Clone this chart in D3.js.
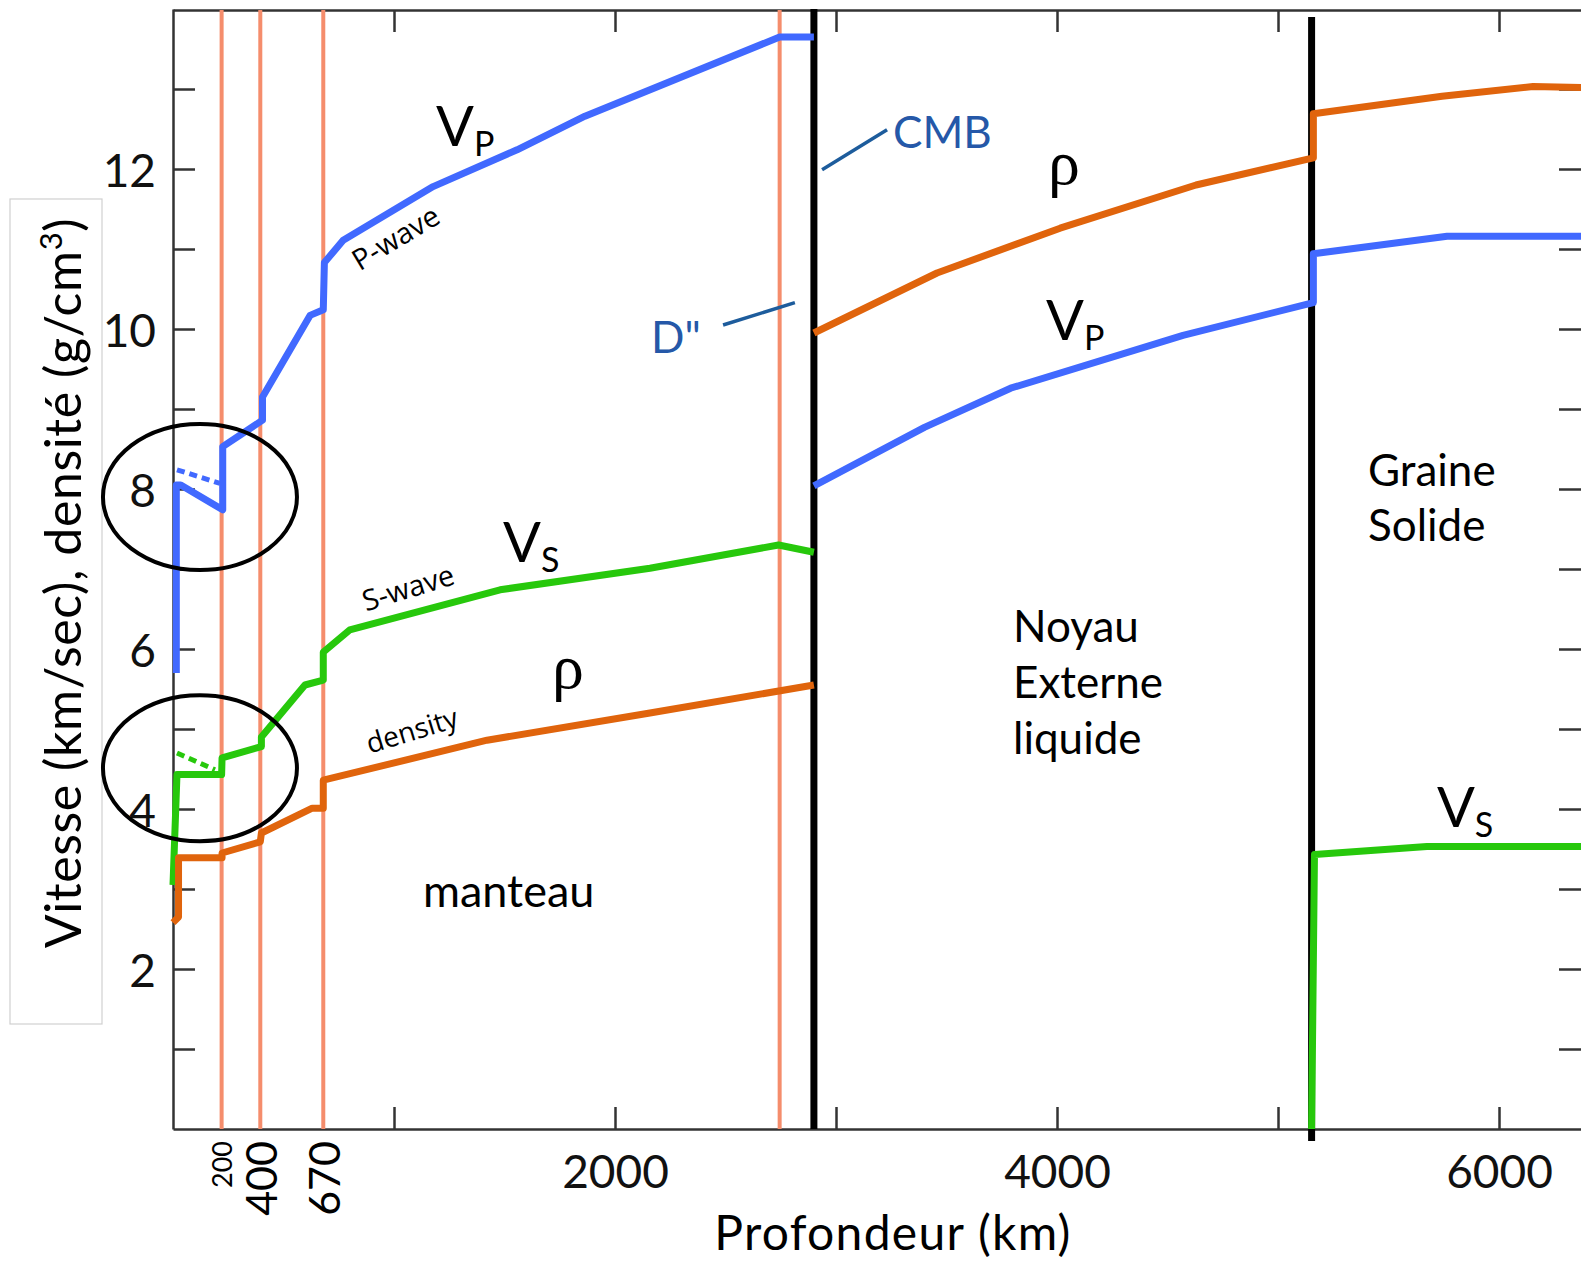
<!DOCTYPE html>
<html>
<head>
<meta charset="utf-8">
<script src="https://cdn.jsdelivr.net/npm/d3@7"></script>
<style>
  body { margin: 0; background: #fff; }
  svg { display: block; font-family: Lato, sans-serif; }
  .axis path, .axis line { stroke: #333; stroke-width: 2.5; }
  .axis text { font-family: Lato, sans-serif; fill: #111; }
</style>
</head>
<body>
<div id="main"></div>
<script>

// datas (depth km, value)

const depthTicks = [1000, 2000, 3000, 4000, 5000, 6000];
const depthLabels = [2000, 4000, 6000];
const valueTicks = d3.range(1, 14);
const valueLabels = [2, 4, 6, 8, 10, 12];

const discontinuities = [220, 395, 680, 2745];
const discontinuityLabels = [['200', 220, 27], ['400', 395, 43], ['670', 680, 43]];
const cmb = 2900;
const icb = 5152;

const vpMantle = [[15, 5.7], [15, 8.05], [35, 8.05], [225, 7.74], [225, 8.53], [405, 8.86], [405, 9.15],
  [620, 10.17], [680, 10.24], [685, 10.83], [770, 11.11], [1177, 11.78], [1557, 12.24], [1864, 12.66],
  [2745, 13.65], [2900, 13.65]];
const vpDashed = [[18, 8.24], [213, 8.07]];
const vpCore = [[2900, 8.04], [3400, 8.77], [3790, 9.26], [4570, 9.92], [5160, 10.33], [5160, 10.94],
  [5765, 11.16], [6371, 11.16]];

const vsMantle = [[0, 3.05], [18, 4.43], [220, 4.43], [222, 4.64], [400, 4.78], [400, 4.9], [597, 5.55],
  [680, 5.61], [680, 5.96], [800, 6.24], [1480, 6.74], [2158, 7.01], [2740, 7.3], [2900, 7.21]];
const vsDashed = [[18, 4.7], [190, 4.49]];
const vsInner = [[5152, 0], [5165, 3.43], [5674, 3.53], [6371, 3.53]];

const rhoMantle = [[0, 2.58], [25, 2.65], [25, 3.39], [222, 3.39], [222, 3.45], [395, 3.59], [400, 3.7],
  [630, 4.01], [680, 4.01], [680, 4.36], [1421, 4.86], [2158, 5.2], [2900, 5.55]];
const rhoCore = [[2900, 9.95], [3457, 10.7], [4014, 11.26], [4629, 11.8], [5160, 12.14], [5160, 12.69],
  [5742, 12.91], [6154, 13.03], [6371, 13.02]];

const w = 1581;
const h = 1264;

const svg = d3.select('#main').append('svg').attr('width', w).attr('height', h);

const x = d3.scaleLinear().domain([0, 6371]).range([173, 1581]);
const y = d3.scaleLinear().domain([0, 14]).range([1129, 9]);

const line = d3.line().x(d => x(d[0])).y(d => y(d[1]));

// title box

svg.append('rect')
  .attr('x', 10).attr('y', 199).attr('width', 92).attr('height', 825)
  .attr('fill', 'none').attr('stroke', '#d0d0d0').attr('stroke-width', 1.2);

// axes

svg.append('g').attr('class', 'axis')
  .attr('transform', `translate(0,${y(0)})`)
  .call(d3.axisBottom(x).tickValues(depthTicks).tickSize(-22).tickSizeOuter(0).tickPadding(26)
    .tickFormat(d => depthLabels.includes(d) ? d : ''))
  .call(g => g.selectAll('text').attr('font-size', 46));

svg.append('g').attr('class', 'axis')
  .attr('transform', `translate(0,${y(14) + 1})`)
  .call(d3.axisTop(x).tickValues(depthTicks).tickSize(-22).tickSizeOuter(0).tickFormat(''));

svg.append('g').attr('class', 'axis')
  .attr('transform', `translate(${x(0)},0)`)
  .call(d3.axisLeft(y).tickValues(valueTicks).tickSize(-22).tickSizeOuter(0).tickPadding(17)
    .tickFormat(d => valueLabels.includes(d) ? d : ''))
  .call(g => g.selectAll('text').attr('font-size', 46).attr('dy', '0.38em'));

svg.append('g').attr('class', 'axis')
  .attr('transform', `translate(${x(6371)},0)`)
  .call(d3.axisRight(y).tickValues(valueTicks).tickSize(-22).tickSizeOuter(0).tickFormat(''))
  .call(g => g.select('.domain').remove());

// discontinuities

svg.append('g').selectAll('line')
  .data(discontinuities).enter().append('line')
  .attr('x1', d => x(d)).attr('x2', d => x(d))
  .attr('y1', y(14) + 1).attr('y2', y(0))
  .attr('stroke', '#f58d6c').attr('stroke-width', 4);

svg.append('g').selectAll('text')
  .data(discontinuityLabels).enter().append('text')
  .attr('transform', d => `translate(${x(d[1])},${y(0) + 12}) rotate(-90)`)
  .attr('text-anchor', 'end')
  .attr('dominant-baseline', 'central')
  .attr('font-size', d => d[2])
  .text(d => d[0]);

svg.append('g').selectAll('line')
  .data([[cmb, 14, 0], [icb, 13.9, -0.15]]).enter().append('line')
  .attr('x1', d => x(d[0])).attr('x2', d => x(d[0]))
  .attr('y1', d => y(d[1])).attr('y2', d => y(d[2]))
  .attr('stroke', '#000').attr('stroke-width', 7);

// curves

const curves = [
  [vpMantle, '#4169ff'], [vpCore, '#4169ff'],
  [vsMantle, '#27c80c'], [vsInner, '#27c80c'],
  [rhoMantle, '#e0640c'], [rhoCore, '#e0640c']
];

svg.append('g').selectAll('path')
  .data(curves).enter().append('path')
  .attr('d', d => line(d[0]))
  .attr('fill', 'none')
  .attr('stroke', d => d[1])
  .attr('stroke-width', 7)
  .attr('stroke-linejoin', 'round');

svg.append('g').selectAll('path')
  .data([[vpDashed, '#4169ff'], [vsDashed, '#27c80c']]).enter().append('path')
  .attr('d', d => line(d[0]))
  .attr('fill', 'none')
  .attr('stroke', d => d[1])
  .attr('stroke-width', 5)
  .attr('stroke-dasharray', '8,5');

// circles

svg.append('g').selectAll('ellipse')
  .data([[122, 7.9], [122, 4.51]]).enter().append('ellipse')
  .attr('cx', d => x(d[0])).attr('cy', d => y(d[1]))
  .attr('rx', 97).attr('ry', 73)
  .attr('fill', 'none').attr('stroke', '#000').attr('stroke-width', 4);

// labels

function sublabel(pos, main, sub) {
  const t = svg.append('text')
    .attr('x', x(pos[0])).attr('y', y(pos[1]))
    .attr('font-size', 56).attr('fill', '#000');
  t.append('tspan').text(main);
  t.append('tspan').attr('font-size', 34).attr('dy', 10).text(sub);
}

sublabel([1190, 12.29], 'V', 'P');
sublabel([3950, 9.86], 'V', 'P');
sublabel([1493, 7.09], 'V', 'S');
sublabel([5719, 3.78], 'V', 'S');

svg.selectAll('.rho')
  .data([[3959, 11.81], [1715, 5.51]]).enter().append('text')
  .attr('class', 'rho')
  .attr('x', d => x(d[0])).attr('y', d => y(d[1]))
  .attr('font-family', 'Liberation Serif, serif')
  .attr('font-size', 64)
  .text('ρ');

const waveLabels = [['P-wave', 845, 10.72, -31, 29], ['S-wave', 873, 6.47, -17, 29], ['density', 890, 4.69, -17, 28]];

svg.selectAll('.wave')
  .data(waveLabels).enter().append('text')
  .attr('class', 'wave')
  .attr('transform', d => `translate(${x(d[1])},${y(d[2])}) rotate(${d[3]})`)
  .attr('font-family', 'Open Sans, sans-serif')
  .attr('font-size', d => d[4])
  .text(d => d[0]);

// CMB and D''

svg.append('g').selectAll('line')
  .data([[[2937, 11.99], [3231, 12.49]], [[2489, 10.05], [2814, 10.33]]]).enter().append('line')
  .attr('x1', d => x(d[0][0])).attr('y1', d => y(d[0][1]))
  .attr('x2', d => x(d[1][0])).attr('y2', d => y(d[1][1]))
  .attr('stroke', '#1d5c9c').attr('stroke-width', 3.5);

svg.append('g').selectAll('text')
  .data([['CMB', 3258, 12.26], ['D"', 2163, 9.7]]).enter().append('text')
  .attr('x', d => x(d[1])).attr('y', d => y(d[2]))
  .attr('font-size', 44).attr('fill', '#2558a8')
  .text(d => d[0]);

// regions

const regions = [['manteau', 1131, 2.78], ['Noyau', 3801, 6.09], ['Externe', 3801, 5.39], ['liquide', 3801, 4.69],
  ['Graine', 5407, 8.04], ['Solide', 5407, 7.35]];

svg.append('g').selectAll('text')
  .data(regions).enter().append('text')
  .attr('x', d => x(d[1])).attr('y', d => y(d[2]))
  .attr('font-size', d => d[0] === 'manteau' ? 45 : 44).attr('fill', '#000')
  .text(d => d[0]);

// axis titles

svg.append('text')
  .attr('x', 893).attr('y', 1250)
  .attr('text-anchor', 'middle')
  .attr('font-size', 48)
  .attr('letter-spacing', 1.3)
  .text('Profondeur (km)');

const yTitle = svg.append('text')
  .attr('transform', 'translate(81,583) rotate(-90)')
  .attr('text-anchor', 'middle')
  .attr('font-size', 50)
  .attr('letter-spacing', 0.6);
yTitle.append('tspan').text('Vitesse (km/sec), densité (g/cm');
yTitle.append('tspan').attr('font-size', 31).attr('dy', -19).text('3');
yTitle.append('tspan').attr('dy', 19).text(')');

</script>
</body>
</html>
